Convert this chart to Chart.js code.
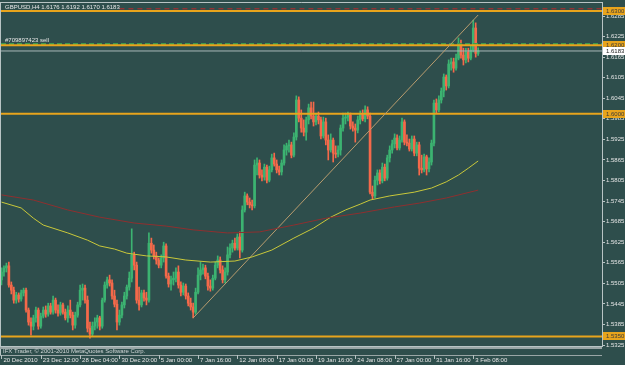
<!DOCTYPE html>
<html><head><meta charset="utf-8">
<script src="https://cdn.jsdelivr.net/npm/chart.js@4/dist/chart.umd.min.js"></script>
<style>html,body{margin:0;padding:0;background:#2e4e4c;overflow:hidden}#wrap{width:625px;height:365px}</style>
</head><body><div id="wrap"><canvas id="c" width="625" height="365"></canvas></div>
<script>
const symbolTitle = "GBPUSD,H4 1.6176 1.6192 1.6170 1.6183";
const orderText = "#709897423 sell";
const copyrightText = "IFX Trader, \u00A9 2001-2010 MetaQuotes Software Corp.";

const opens = [
1.5515,1.5538,1.5550,1.5556,1.5500,1.5485,1.5456,1.5471,1.5459,1.5477,
1.5485,1.5427,1.5392,1.5380,1.5404,1.5427,1.5380,1.5409,1.5427,1.5415,
1.5439,1.5421,1.5456,1.5427,1.5418,1.5442,1.5421,1.5404,1.5427,1.5412,
1.5383,1.5412,1.5442,1.5485,1.5491,1.5456,1.5374,1.5357,1.5380,1.5392,
1.5404,1.5380,1.5456,1.5500,1.5515,1.5506,1.5468,1.5444,1.5392,1.5412,
1.5442,1.5468,1.5494,1.5520,1.5588,1.5558,1.5456,1.5442,1.5477,1.5462,
1.5456,1.5622,1.5602,1.5585,1.5573,1.5558,1.5579,1.5614,1.5526,1.5503,
1.5515,1.5520,1.5538,1.5500,1.5479,1.5497,1.5468,1.5447,1.5436,1.5421,
1.5479,1.5529,1.5544,1.5550,1.5526,1.5497,1.5491,1.5520,1.5558,1.5573,
1.5544,1.5515,1.5538,1.5588,1.5608,1.5622,1.5608,1.5640,1.5602,1.5719,
1.5760,1.5742,1.5734,1.5731,1.5850,1.5856,1.5821,1.5815,1.5844,1.5806,
1.5836,1.5871,1.5853,1.5836,1.5830,1.5856,1.5894,1.5906,1.5909,1.5879,
1.5932,1.6040,1.5987,1.5958,1.5946,1.5982,1.6017,1.5993,1.5976,1.5993,
1.5982,1.5935,1.5976,1.5923,1.5894,1.5923,1.5885,1.5882,1.5894,1.5958,
1.5987,1.5990,1.5996,1.5964,1.5958,1.5952,1.5982,1.5999,1.5985,1.6011,
1.5993,1.5771,1.5760,1.5806,1.5827,1.5804,1.5844,1.5812,1.5871,1.5894,
1.5912,1.5929,1.5900,1.5923,1.5976,1.5917,1.5914,1.5897,1.5926,1.5885,
1.5909,1.5841,1.5836,1.5874,1.5839,1.5859,1.5914,1.6031,1.6011,1.6040,
1.6066,1.6107,1.6081,1.6145,1.6151,1.6133,1.6162,1.6203,1.6171,1.6157,
1.6180,1.6162,1.6186,1.6250,1.6176
];
const highs = [
1.5550,1.5556,1.5564,1.5567,1.5509,1.5494,1.5479,1.5477,1.5485,1.5491,
1.5491,1.5433,1.5404,1.5412,1.5436,1.5433,1.5418,1.5436,1.5439,1.5447,
1.5447,1.5468,1.5462,1.5442,1.5450,1.5447,1.5430,1.5439,1.5456,1.5421,
1.5421,1.5450,1.5500,1.5503,1.5500,1.5468,1.5392,1.5392,1.5404,1.5412,
1.5409,1.5462,1.5509,1.5523,1.5529,1.5515,1.5485,1.5456,1.5427,1.5450,
1.5479,1.5500,1.5538,1.5664,1.5596,1.5567,1.5494,1.5485,1.5485,1.5479,
1.5652,1.5637,1.5617,1.5596,1.5579,1.5588,1.5625,1.5620,1.5535,1.5526,
1.5538,1.5550,1.5556,1.5509,1.5506,1.5503,1.5477,1.5462,1.5447,1.5491,
1.5550,1.5567,1.5561,1.5558,1.5535,1.5515,1.5529,1.5567,1.5585,1.5582,
1.5556,1.5550,1.5611,1.5620,1.5631,1.5637,1.5649,1.5655,1.5731,1.5771,
1.5766,1.5754,1.5748,1.5865,1.5871,1.5865,1.5836,1.5853,1.5850,1.5847,
1.5882,1.5885,1.5865,1.5847,1.5865,1.5909,1.5914,1.5923,1.5917,1.5944,
1.6052,1.6049,1.6011,1.5982,1.5990,1.6028,1.6034,1.6034,1.6002,1.6005,
1.5990,1.5990,1.5987,1.5938,1.5941,1.5929,1.5906,1.5906,1.5967,1.6002,
1.6002,1.6005,1.6002,1.5976,1.5970,1.5993,1.6008,1.6011,1.6023,1.6020,
1.6002,1.5789,1.5818,1.5836,1.5836,1.5856,1.5853,1.5879,1.5906,1.5923,
1.5941,1.5938,1.5935,1.5987,1.5982,1.5938,1.5926,1.5935,1.5935,1.5917,
1.5917,1.5879,1.5882,1.5879,1.5871,1.5923,1.6040,1.6043,1.6052,1.6075,
1.6116,1.6113,1.6157,1.6162,1.6162,1.6174,1.6221,1.6215,1.6191,1.6191,
1.6191,1.6197,1.6273,1.6265,1.6192
];
const lows = [
1.5500,1.5526,1.5538,1.5494,1.5474,1.5447,1.5447,1.5450,1.5453,1.5468,
1.5421,1.5383,1.5354,1.5369,1.5392,1.5371,1.5374,1.5404,1.5406,1.5409,
1.5415,1.5415,1.5418,1.5409,1.5412,1.5415,1.5398,1.5392,1.5404,1.5369,
1.5374,1.5406,1.5436,1.5456,1.5447,1.5363,1.5345,1.5351,1.5369,1.5374,
1.5369,1.5374,1.5450,1.5491,1.5497,1.5459,1.5436,1.5369,1.5383,1.5404,
1.5433,1.5459,1.5485,1.5509,1.5544,1.5447,1.5427,1.5436,1.5453,1.5442,
1.5450,1.5593,1.5576,1.5561,1.5550,1.5550,1.5567,1.5520,1.5494,1.5485,
1.5500,1.5509,1.5491,1.5468,1.5471,1.5459,1.5439,1.5427,1.5404,1.5415,
1.5474,1.5515,1.5532,1.5518,1.5485,1.5482,1.5485,1.5515,1.5550,1.5535,
1.5506,1.5506,1.5529,1.5579,1.5596,1.5602,1.5602,1.5579,1.5596,1.5713,
1.5734,1.5725,1.5719,1.5725,1.5821,1.5812,1.5804,1.5806,1.5798,1.5801,
1.5830,1.5847,1.5827,1.5821,1.5821,1.5850,1.5879,1.5888,1.5871,1.5874,
1.5923,1.5976,1.5946,1.5935,1.5923,1.5970,1.5985,1.5964,1.5967,1.5970,
1.5926,1.5929,1.5909,1.5865,1.5888,1.5859,1.5871,1.5874,1.5879,1.5949,
1.5970,1.5979,1.5955,1.5949,1.5917,1.5944,1.5970,1.5979,1.5976,1.5985,
1.5766,1.5751,1.5754,1.5792,1.5795,1.5798,1.5804,1.5806,1.5859,1.5885,
1.5900,1.5894,1.5894,1.5917,1.5909,1.5906,1.5891,1.5891,1.5877,1.5877,
1.5821,1.5827,1.5830,1.5821,1.5830,1.5850,1.5906,1.6002,1.6005,1.6031,
1.6049,1.6069,1.6075,1.6127,1.6121,1.6127,1.6157,1.6162,1.6142,1.6148,
1.6151,1.6157,1.6180,1.6165,1.6170
];
const closes = [
1.5538,1.5550,1.5556,1.5500,1.5485,1.5456,1.5471,1.5459,1.5477,1.5485,
1.5427,1.5392,1.5380,1.5404,1.5427,1.5380,1.5409,1.5427,1.5415,1.5439,
1.5421,1.5456,1.5427,1.5418,1.5442,1.5421,1.5404,1.5427,1.5412,1.5383,
1.5412,1.5442,1.5485,1.5491,1.5456,1.5374,1.5357,1.5380,1.5392,1.5404,
1.5380,1.5456,1.5500,1.5515,1.5506,1.5468,1.5444,1.5392,1.5412,1.5442,
1.5468,1.5494,1.5520,1.5588,1.5558,1.5456,1.5442,1.5477,1.5462,1.5456,
1.5622,1.5602,1.5585,1.5573,1.5558,1.5579,1.5614,1.5526,1.5503,1.5515,
1.5520,1.5538,1.5500,1.5479,1.5497,1.5468,1.5447,1.5436,1.5421,1.5479,
1.5529,1.5544,1.5550,1.5526,1.5497,1.5491,1.5520,1.5558,1.5573,1.5544,
1.5515,1.5538,1.5588,1.5608,1.5622,1.5608,1.5640,1.5602,1.5719,1.5760,
1.5742,1.5734,1.5731,1.5850,1.5856,1.5821,1.5815,1.5844,1.5806,1.5836,
1.5871,1.5853,1.5836,1.5830,1.5856,1.5894,1.5906,1.5909,1.5879,1.5932,
1.6040,1.5987,1.5958,1.5946,1.5982,1.6017,1.5993,1.5976,1.5993,1.5982,
1.5935,1.5976,1.5923,1.5894,1.5923,1.5885,1.5882,1.5894,1.5958,1.5987,
1.5990,1.5996,1.5964,1.5958,1.5952,1.5982,1.5999,1.5985,1.6011,1.5993,
1.5771,1.5760,1.5806,1.5827,1.5804,1.5844,1.5812,1.5871,1.5894,1.5912,
1.5929,1.5900,1.5923,1.5976,1.5917,1.5914,1.5897,1.5926,1.5885,1.5909,
1.5841,1.5836,1.5874,1.5839,1.5859,1.5914,1.6031,1.6011,1.6040,1.6066,
1.6107,1.6081,1.6145,1.6151,1.6133,1.6162,1.6203,1.6171,1.6157,1.6180,
1.6162,1.6186,1.6250,1.6176,1.6183
];

const xTickBars = [0,16,32,48,64,80,96,112,128,144,160,176,192];
const xTickLabels = ["20 Dec 2010","23 Dec 12:00","28 Dec 04:00","30 Dec 20:00","5 Jan 00:00","7 Jan 16:00","12 Jan 08:00","17 Jan 00:00","19 Jan 16:00","24 Jan 08:00","27 Jan 00:00","31 Jan 16:00","3 Feb 08:00"];
const yTickValues = [1.6285,1.6225,1.6165,1.6105,1.6045,1.5985,1.5925,1.5865,1.5805,1.5745,1.5685,1.5625,1.5565,1.5505,1.5445,1.5385,1.5325];

const maYellowBars = [0,8,13,17,27,35,40,46,51,59,67,75,85,95,102,110,119,127,134,140,146,150,158,168,175,181,186,190,194];
const maYellowValues = [1.5742,1.5725,1.5695,1.5675,1.5652,1.5631,1.5614,1.5605,1.5593,1.5585,1.5582,1.5573,1.5567,1.5570,1.5582,1.5602,1.5637,1.5666,1.5698,1.5719,1.5736,1.5748,1.5760,1.5771,1.5783,1.5801,1.5821,1.5841,1.5862];
const maRedBars = [0,13,27,40,54,67,78,92,105,119,132,146,160,170,181,194];
const maRedValues = [1.5763,1.5748,1.5719,1.5698,1.5681,1.5672,1.5661,1.5652,1.5655,1.5675,1.5695,1.5710,1.5728,1.5739,1.5754,1.5777];
const trendBars = [78, 194];
const trendValues = [1.5404, 1.6288];
const levels = [1.6300, 1.6200, 1.6000, 1.5350];
const orderLevel = 1.6203;
const stopLevel = 1.6306;
const stopFromBar = 48;
const bidLevel = 1.6183;

// layout constants
const X_MIN = -0.2, X_MAX = 244.4;
const Y_MIN = 1.53221, Y_MAX = 1.63259;
const BG = '#2e4e4c';
const FRAME = '#b8c4c4';
const TXT = '#e6e6e6';
const UP = '#3cb371', DOWN = '#f5694a';
const LEVEL = '#e8a41c';
const FONT = '"Liberation Sans", Arial, sans-serif';

const idx = closes.map((_, i) => i);
const colorOf = i => closes[i] >= opens[i] ? UP : DOWN;

const hline = (v, x0, x1) => [{x: x0, y: v}, {x: x1, y: v}];
const lineDs = (data, color, extra) => Object.assign({
  type: 'line', data, borderColor: color, borderWidth: 1, pointRadius: 0,
  tension: 0, fill: false, order: 1
}, extra || {});

const datasets = [
  lineDs(maRedBars.map((b, k) => ({x: b, y: maRedValues[k]})), '#8e2f2f'),
  lineDs(maYellowBars.map((b, k) => ({x: b, y: maYellowValues[k]})), '#c9c83a'),
  lineDs(trendBars.map((b, k) => ({x: b, y: trendValues[k]})), '#b89c6e'),
  ...levels.map(v => lineDs(hline(v, X_MIN, X_MAX), LEVEL, {borderWidth: 2})),
  lineDs(hline(orderLevel, X_MIN, X_MAX), '#3f9a4e', {borderWidth: 2, borderDash: [5, 3]}),
  lineDs(hline(stopLevel, stopFromBar, X_MAX), '#c0282a', {borderWidth: 1, borderDash: [5, 4]}),
  lineDs(hline(bidLevel, X_MIN, X_MAX), '#a9b7b7', {borderWidth: 1}),
  {
    type: 'bar', data: idx.map(i => ({x: i, y: [lows[i], highs[i]]})),
    backgroundColor: idx.map(colorOf), grouped: false, maxBarThickness: 1,
    categoryPercentage: 1, barPercentage: 1, borderWidth: 0, order: 3
  },
  {
    type: 'bar', data: idx.map(i => ({x: i, y: [opens[i], closes[i]]})),
    backgroundColor: idx.map(colorOf), grouped: false, maxBarThickness: 2,
    categoryPercentage: 1, barPercentage: 1, borderWidth: 0, minBarLength: 1, order: 2
  }
];

const overlay = {
  id: 'overlay',
  beforeDraw(chart) {
    const c = chart.ctx;
    c.save(); c.fillStyle = BG; c.fillRect(0, 0, chart.width, chart.height); c.restore();
  },
  afterDraw(chart) {
    const c = chart.ctx, a = chart.chartArea, ys = chart.scales.y, xs = chart.scales.x;
    c.save();
    // frame
    c.strokeStyle = FRAME; c.lineWidth = 1;
    c.beginPath();
    c.moveTo(a.left - 0.5, a.top + 0.5); c.lineTo(a.right, a.top + 0.5);
    c.moveTo(a.left - 0.5, a.top); c.lineTo(a.left - 0.5, a.bottom + 10);
    c.stroke();
    // sub-window separators
    c.fillStyle = '#9aa6a6';
    c.fillRect(0, a.bottom + 1, a.right, 2);
    c.fillRect(0, a.bottom + 9, a.right, 1);
    // x tick marks
    c.strokeStyle = FRAME;
    c.beginPath();
    xs.ticks.forEach(t => {
      const px = Math.round(xs.getPixelForValue(t.value)) + 0.5;
      c.moveTo(px, a.bottom + 9); c.lineTo(px, a.bottom + 13);
    });
    c.stroke();
    // texts
    c.fillStyle = TXT; c.textBaseline = 'middle'; c.textAlign = 'left';
    c.font = '6px ' + FONT;
    c.fillText(symbolTitle, 5, 7);
    c.fillText(orderText, 5, ys.getPixelForValue(orderLevel) - 4);
    c.fillStyle = '#d0d6d6';
    c.fillText(copyrightText, 3, a.bottom + 5);
    // price boxes
    const boxes = levels.map(v => ({v, bg: LEVEL, fg: '#3a3a3a'}));
    boxes.splice(2, 0, {v: bidLevel, bg: '#ffffff', fg: '#202020'});
    boxes.forEach(b => {
      const py = Math.round(ys.getPixelForValue(b.v));
      c.fillStyle = b.bg; c.fillRect(a.right + 1, py - 4, 22, 8);
      c.fillStyle = b.fg; c.fillText(b.v.toFixed(4), a.right + 4, py + 0.5);
    });
    c.restore();
  }
};

new Chart(document.getElementById('c'), {
  type: 'bar',
  data: {datasets},
  options: {
    responsive: false, animation: false, devicePixelRatio: 1,
    layout: {padding: {left: 1, top: 2, right: 0, bottom: 0}},
    plugins: {legend: {display: false}, tooltip: {enabled: false}},
    scales: {
      x: {
        type: 'linear', min: X_MIN, max: X_MAX, offset: false,
        afterBuildTicks: s => { s.ticks = xTickBars.map(v => ({value: v})); },
        afterFit: s => { s.height = 19; s.paddingLeft = 0; s.paddingRight = 0; },
        grid: {display: true, drawOnChartArea: false, drawTicks: true, tickLength: 11, tickColor: 'rgba(0,0,0,0)'},
        border: {display: true, color: FRAME},
        ticks: {
          autoSkip: false, maxRotation: 0, minRotation: 0, align: 'start',
          labelOffset: 2, padding: 0, color: TXT, font: {family: FONT, size: 6},
          callback: (v, i) => xTickLabels[i]
        }
      },
      y: {
        type: 'linear', position: 'right', min: Y_MIN, max: Y_MAX, beginAtZero: false,
        afterBuildTicks: s => { s.ticks = yTickValues.map(v => ({value: v})); },
        afterFit: s => { s.width = 23; s.paddingTop = 0; s.paddingBottom = 0; },
        grid: {display: true, drawOnChartArea: false, drawTicks: true, tickLength: 3, tickColor: FRAME},
        border: {display: true, color: FRAME},
        ticks: {
          autoSkip: false, padding: 1, color: TXT, font: {family: FONT, size: 6},
          callback: v => Number(v).toFixed(4)
        }
      }
    }
  },
  plugins: [overlay]
});
</script>
</body></html>
